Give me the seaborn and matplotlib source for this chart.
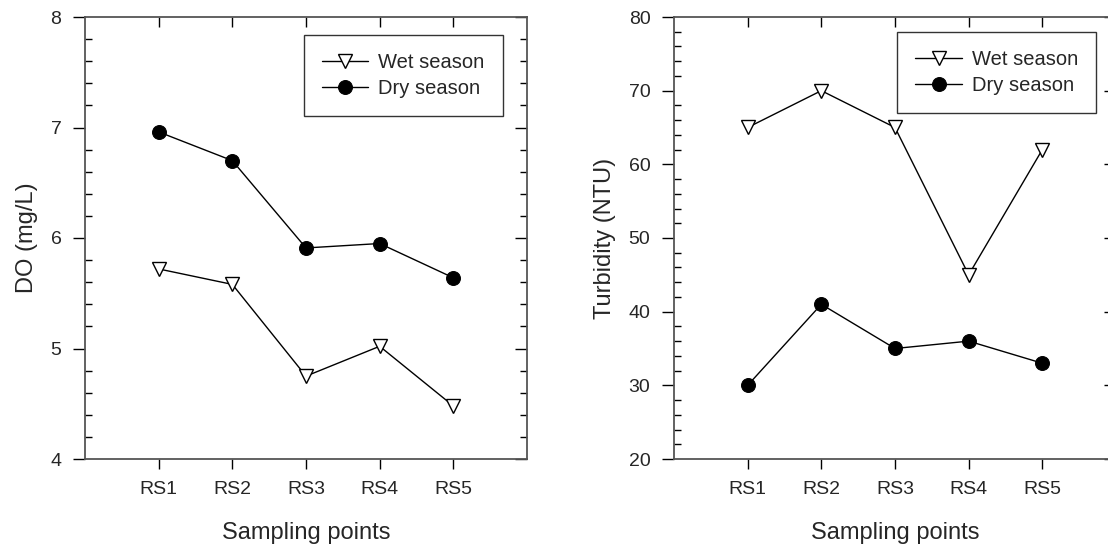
import numpy as np
import pandas as pd
import matplotlib
matplotlib.use('Agg')
import matplotlib.pyplot as plt
from matplotlib.ticker import MultipleLocator
import seaborn as sns

# Values
sites = ['RS1', 'RS2', 'RS3', 'RS4', 'RS5']
seasons = ['Wet season', 'Dry season']
do_wet = [5.72, 5.58, 4.75, 5.02, 4.48]
do_dry = [6.96, 6.70, 5.91, 5.95, 5.64]
turb_wet = [65, 70, 65, 45, 62]
turb_dry = [30, 41, 35, 36, 33]

sns.set_style('ticks')
plt.rcParams['font.family'] = ['Liberation Sans', 'DejaVu Sans']

positions = np.arange(1, len(sites) + 1)


def make_frame(wet, dry):
    return pd.DataFrame({
        'pos': np.concatenate([positions, positions]),
        'value': wet + dry,
        'season': [seasons[0]] * len(wet) + [seasons[1]] * len(dry),
    })


def draw_panel(ax, df, ylim, major, minor, ylabel, xmax, legend_anchor):
    wet = df[df['season'] == seasons[0]]
    dry = df[df['season'] == seasons[1]]
    sns.lineplot(data=wet, x='pos', y='value', ax=ax, color='black', lw=1,
                 marker='v', markersize=10, markerfacecolor='white',
                 markeredgecolor='black', markeredgewidth=1, label=seasons[0])
    sns.lineplot(data=dry, x='pos', y='value', ax=ax, color='black', lw=1,
                 marker='o', markersize=10, markerfacecolor='black',
                 markeredgecolor='black', label=seasons[1])

    ax.set_xlim(0, xmax)
    ax.set_ylim(*ylim)
    ax.set_xticks(positions)
    ax.set_xticklabels(sites)
    ax.yaxis.set_major_locator(MultipleLocator(major))
    ax.yaxis.set_minor_locator(MultipleLocator(minor))

    ax.tick_params(axis='x', which='major', direction='out', length=7, width=1,
                   labelsize=14, pad=9, color='black')
    ax.tick_params(axis='y', which='major', direction='out', length=9, width=1,
                   labelsize=14, pad=8, color='black')
    ax.tick_params(axis='y', which='minor', direction='in', length=5, width=1,
                   color='black', left=True)

    # mirrored ticks on top and right, pointing inwards
    top = ax.secondary_xaxis('top')
    top.set_xticks(positions)
    top.tick_params(direction='in', length=7, width=1, labeltop=False, color='black')
    right = ax.secondary_yaxis('right')
    right.yaxis.set_major_locator(MultipleLocator(major))
    right.yaxis.set_minor_locator(MultipleLocator(minor))
    right.tick_params(which='major', direction='in', length=9, width=1,
                      labelright=False, color='black')
    right.tick_params(which='minor', direction='in', length=5, width=1, color='black')
    for sec in (top, right):
        for sp in sec.spines.values():
            sp.set_visible(False)

    for sp in ax.spines.values():
        sp.set_color('#555555')
        sp.set_linewidth(1.3)

    ax.set_xlabel('Sampling points', fontsize=17, labelpad=17)
    ax.set_ylabel(ylabel, fontsize=17, labelpad=9)

    leg = ax.legend(loc='upper right', bbox_to_anchor=legend_anchor, borderaxespad=0,
                    fontsize=14.5, frameon=True, fancybox=False, framealpha=1,
                    handlelength=2.3, labelspacing=0.35, borderpad=0.9,
                    handletextpad=0.5)
    leg.get_frame().set_edgecolor('#333333')
    leg.get_frame().set_linewidth(1)


fig = plt.figure(figsize=(11.08, 5.46), dpi=100)
W, H = 1108, 546
ax1 = fig.add_axes([85 / W, (H - 459) / H, 442 / W, 442 / H])
ax2 = fig.add_axes([674 / W, (H - 459) / H, 442 / W, 442 / H])

draw_panel(ax1, make_frame(do_wet, do_dry), (4, 8), 1, 0.2, 'DO (mg/L)', 6,
           (0.945, 0.959))
draw_panel(ax2, make_frame(turb_wet, turb_dry), (20, 80), 10, 2, 'Turbidity (NTU)', 6,
           (0.955, 0.966))

fig.savefig('out.png', dpi=100)
